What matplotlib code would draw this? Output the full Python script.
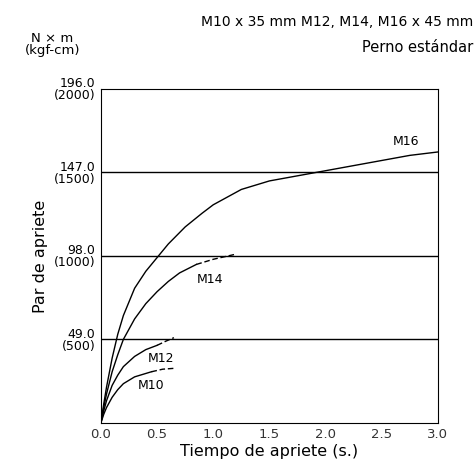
import matplotlib
matplotlib.use("Agg")
import matplotlib.pyplot as plt

x_ticks = [0.0, 0.5, 1.0, 1.5, 2.0, 2.5, 3.0]
y_ticks = [49.0, 98.0, 147.0, 196.0]
y_labels = ["49.0\n(500)", "98.0\n(1000)", "147.0\n(1500)", "196.0\n(2000)"]

m16_x = [0, 0.025, 0.05, 0.1, 0.15, 0.2, 0.3, 0.4, 0.5, 0.6, 0.75, 0.9, 1.0, 1.25, 1.5, 1.75, 2.0, 2.25, 2.5, 2.75, 3.0]
m16_y = [0, 11, 21, 38, 52, 63, 79, 89, 97, 105, 115, 123, 128, 137, 142, 145, 148, 151, 154, 157, 159]
m14_x = [0, 0.025, 0.05, 0.1, 0.15, 0.2, 0.3, 0.4, 0.5, 0.6, 0.7, 0.85]
m14_y = [0, 9, 17, 30, 40, 49, 61, 70, 77, 83, 88, 93]
m14_dx = [0.85, 1.0, 1.2]
m14_dy = [93, 96, 99]
m12_x = [0, 0.025, 0.05, 0.1, 0.15, 0.2, 0.3, 0.4, 0.5]
m12_y = [0, 7, 13, 22, 28, 33, 39, 43, 45.5]
m12_dx = [0.5, 0.58, 0.65]
m12_dy = [45.5, 48, 50]
m10_x = [0, 0.025, 0.05, 0.1, 0.15, 0.2, 0.3, 0.4, 0.45]
m10_y = [0, 5, 9, 15, 19.5, 23, 27, 29, 30]
m10_dx = [0.45, 0.55, 0.65]
m10_dy = [30, 31.5, 32]

fig = plt.figure(figsize=(4.76, 4.73), dpi=100)
ax = fig.add_axes([0.212, 0.106, 0.708, 0.706])
kw = dict(color="black", lw=1.0)
ax.plot(m16_x, m16_y, **kw)
ax.plot(m14_x, m14_y, **kw)
ax.plot(m14_dx, m14_dy, ls=(0, (4, 2)), **kw)
ax.plot(m12_x, m12_y, **kw)
ax.plot(m12_dx, m12_dy, ls=(0, (4, 2)), **kw)
ax.plot(m10_x, m10_y, **kw)
ax.plot(m10_dx, m10_dy, ls=(0, (4, 2)), **kw)
for y in y_ticks[:3]:
    ax.axhline(y, color="black", lw=1.0)

ax.text(2.6, 163, "M16", fontsize=9)
ax.text(0.85, 82, "M14", fontsize=9)
ax.text(0.42, 36, "M12", fontsize=9)
ax.text(0.33, 20, "M10", fontsize=9)

ax.set_xlim(0, 3)
ax.set_ylim(0, 196)
ax.set_xticks(x_ticks)
ax.set_xticklabels([f"{v:.1f}" for v in x_ticks], fontsize=9.5, color="#333")
ax.set_yticks(y_ticks)
ax.set_yticklabels(y_labels, fontsize=9, linespacing=0.9)
ax.tick_params(length=0, pad=4)
ax.set_xlabel("Tiempo de apriete (s.)", fontsize=11.5, labelpad=2)
ax.set_ylabel("Par de apriete", fontsize=11.5)

fig.text(0.995, 0.945, "M10 x 35 mm M12, M14, M16 x 45 mm", ha="right", fontsize=10)
fig.text(0.995, 0.89, "Perno estándar", ha="right", fontsize=10.5)
fig.text(0.11, 0.885, "N × m\n(kgf-cm)", ha="center", fontsize=9.5, linespacing=0.9)

fig.savefig("out.png", dpi=100)
